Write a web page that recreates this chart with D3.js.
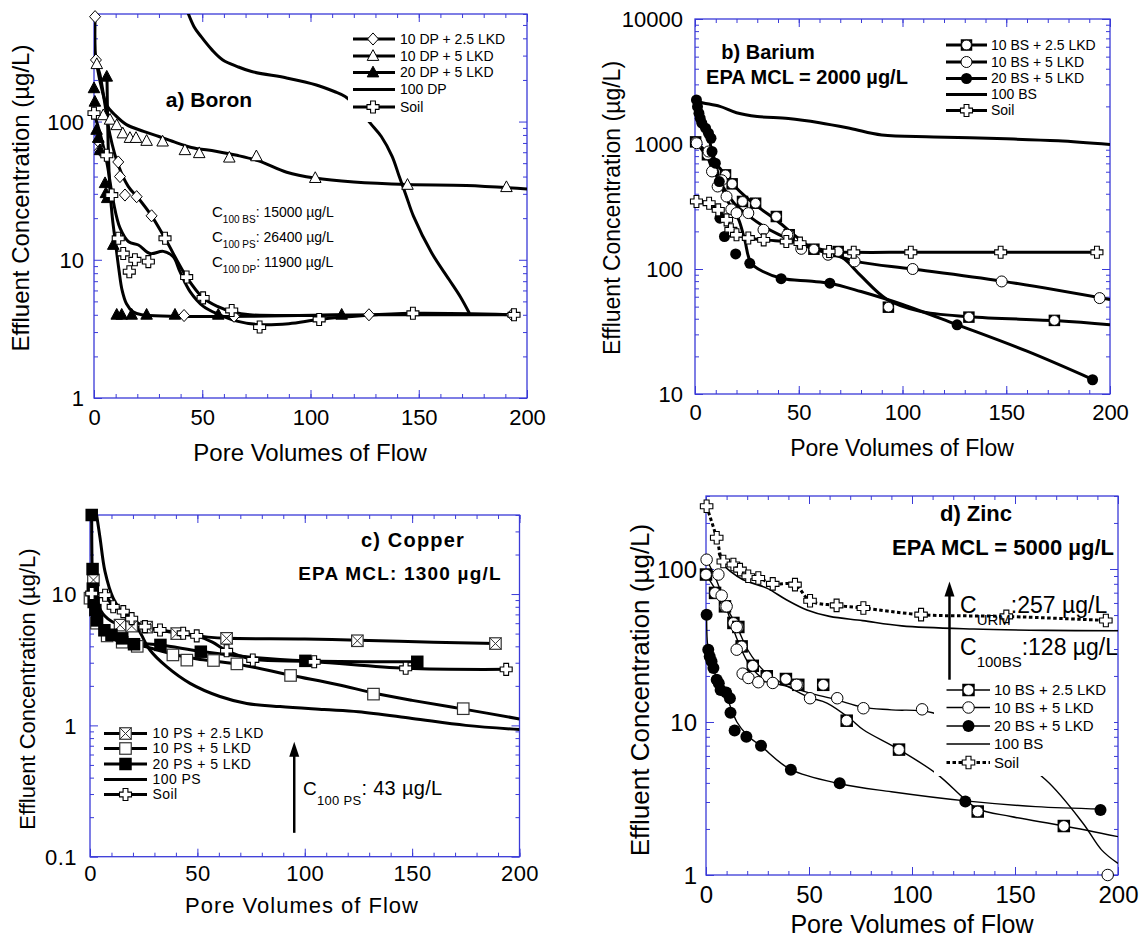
<!DOCTYPE html>
<html><head><meta charset="utf-8">
<script src="https://cdn.jsdelivr.net/npm/d3@7"></script>
<style>
body{margin:0;background:#fff;}
svg{display:block;font-family:"Liberation Sans",Arial,Helvetica,sans-serif;}
</style></head><body>
<svg id="chart" width="1144" height="942"></svg>
<script>
// ================= DATA =================
const xTickValues = [0, 50, 100, 150, 200];
const xMinorValues = d3.range(0, 201, 10);
const xTitle = "Pore Volumes of Flow";
const yTitle = "Effluent Concentration (\u00b5g/L)";

// ---- a) Boron ----
const boronYTicks = [1, 10, 100];
const boronNames = ["10 DP + 2.5 LKD", "10 DP + 5 LKD", "20 DP + 5 LKD", "100 DP", "Soil"];
const boronDP25Points = [[0.5,574],[0.9,279],[2,72],[2.8,62],[11.2,51],[12,40],[14.3,29.4],[19.7,28.6],[26.6,20.8],[41.6,3.95],[64.7,3.9],[127,4.0],[193,4.0]];
const boronDP25Curve = [[0.5,574],[0.9,279],[2.8,217],[5.1,132],[7.4,80],[11.2,48.5],[15.8,34],[20.5,27.9],[26.6,20.8],[32.8,14.3],[42.8,7.5],[50.4,5.3],[57,4.6],[64,4.2],[72,4.0],[130,4.0],[193,4.0]];
const boronDP5Points = [[1.3,260],[4.3,111],[7.4,103],[10.5,94],[13.3,82],[16.6,76],[19.4,76],[24.3,72.4],[31.7,71.6],[42,62],[48.6,59],[62.5,54.8],[75,56],[102.2,39],[144.8,34.8],[190.5,33.5]];
const boronDP5Curve = [[1.3,260],[3,189],[6,130],[9.6,112],[15,95],[22.9,85],[30,78],[36.2,72],[45,65],[56.2,61],[66,57],[76,52],[89,43],[102,39],[120,36.5],[145,35],[172,34.5],[200,32.5]];
const boronDP20Points = [[0,174],[0.4,139],[1.2,87],[2,76],[2.8,62],[5.1,35.8],[5.5,30.3],[6.1,27.9],[5.9,211],[8.9,12.8],[10.5,4],[12.8,4],[17.4,4],[24.3,4],[37.4,4],[57.4,4],[114.4,4]];
const boronDP20Curve = [[6,211],[6.3,100],[6.8,50],[7.4,32],[8.5,20],[10,13],[11.5,8.5],[13,6],[15,4.8],[18,4.2],[22,4.0],[114.4,4.0]];
const boronDP100Curve = [[42,700],[46.2,486],[49.5,411],[54.5,330],[59.5,279],[66.2,250],[72.8,230],[89.4,206],[102.7,184],[111,165],[116,152],[122,125],[127.7,97],[132.7,78],[137.7,56],[141,40],[144.3,28.7],[147.6,20.6],[156,11.2],[164,7.2],[169.2,5.4],[173.4,4.1]];
const boronSoilPoints = [[0,115],[5.9,57],[8.2,29.4],[11.2,14.3],[13.5,11.1],[16.3,8.2],[18.9,10],[25.1,9.7],[32.8,14.3],[42.8,7.5],[50.4,5.3],[63.6,4.3],[76.5,3.26],[104,3.7],[147.3,4.1],[194,4.0]];
const boronSoilCurve = [[0,115],[3,80],[6,50],[9,26],[12,17],[16,13.5],[20.5,12.8],[25.9,11.1],[32,11.5],[36.6,10.5],[39.7,8.2],[44.3,5.9],[50.5,4.6],[58,4.0],[66,3.6],[76,3.4],[90,3.45],[104,3.7],[125,3.95],[147,4.1],[194,4.0]];

// ---- b) Barium ----
const bariumYTicks = [10, 100, 1000, 10000];
const bariumNames = ["10 BS + 2.5 LKD", "10 BS + 5 LKD", "20 BS + 5 LKD", "100 BS", "Soil"];
const bariumBS25Points = [[0.3,1040],[6,820],[14.7,566],[17.9,480],[22.9,347],[29.2,336],[39.2,263],[45.4,188],[57.3,144],[69,138],[93.2,49.5],[132,41.2],[173.2,38.8]];
const bariumBS25Curve = [[0.3,1040],[6,800],[12,640],[18,480],[25,370],[32,300],[40,240],[50,175],[57,145],[66,135],[72,120],[80,88],[92.6,57],[108,46],[132,41.5],[175,38.5],[200,35.8]];
const bariumBS5Points = [[0.8,1014],[6.5,871],[8.2,603],[10.9,457],[12.9,513],[15.2,380],[17.5,300],[20,280],[25.7,280],[33,206],[44.5,188],[51.2,145],[64.1,130],[76.9,115],[104.9,100],[147.8,79.5],[195,58.5]];
const bariumBS5Curve = [[0.8,1014],[5,870],[8,650],[12,500],[16,390],[20,320],[26,265],[33,220],[40,190],[50,160],[60,140],[70,125],[80,113],[105,100],[148,80],[200,57]];
const bariumBS20Points = [[0.7,2254],[1.2,1990],[1.9,1762],[2.5,1607],[3.3,1466],[5.1,1337],[6.5,1219],[7.7,1112],[8.2,871],[9.8,702],[11.7,501],[12,255],[14.2,182],[19.6,132],[26.4,111],[41.5,83.6],[65,77],[126.3,35.8],[191.6,13.0]];
const bariumBS20Curve = [[0.7,2254],[2,1800],[4,1450],[6,1250],[8,900],[10,700],[12,500],[15,370],[18,300],[21,250],[24,170],[27,112],[33,95],[42,84],[55,80],[65,77],[80,66],[100,52],[126,36],[160,22],[192,13]];
const bariumBS100Curve = [[0.7,2200],[4,2130],[12,2000],[20,1780],[30,1660],[45,1600],[60,1480],[75,1330],[90,1180],[115,1140],[150,1100],[175,1060],[200,990]];
const bariumSoilPoints = [[0.7,347],[6.8,336],[11.2,297],[15.2,247],[17.3,206],[20,188],[25.7,177],[33.1,171],[44,166],[50.6,161],[64.6,138],[76.5,136],[104,136],[147.3,136],[193.7,136]];
const bariumSoilCurve = [[0.7,347],[6.8,336],[11.2,297],[15.2,247],[17.3,206],[20,188],[25.7,177],[33.1,171],[44,166],[50.6,161],[64.6,138],[76.5,136],[104,136],[147.3,136],[193.7,136]];

// ---- c) Copper ----
const copperYTicks = [0.1, 1, 10];
const copperNames = ["10 PS + 2.5 LKD", "10 PS + 5 LKD", "20 PS + 5 LKD", "100 PS", "Soil"];
const copperPS25Points = [[1.6,12.8],[14,5.8],[19.4,5.7],[26.4,5.6],[40.4,5.0],[63.6,4.6],[124.5,4.41],[188.8,4.2]];
const copperPS25Curve = [[1.6,12.8],[5,7.5],[10,6.2],[15,5.8],[20,5.65],[27,5.5],[40,5.05],[55,4.7],[64,4.6],[100,4.55],[125,4.45],[160,4.3],[189,4.2]];
const copperPS5Points = [[0,9.3],[3,6],[8,4.8],[15,4.3],[22,4.0],[38.6,3.44],[45.1,3.14],[57.5,3.12],[68.4,2.94],[93.4,2.4],[132,1.73],[173.8,1.34]];
const copperPS5Curve = [[0,9.3],[3,6],[8,4.8],[15,4.3],[25,4.0],[38,3.5],[50,3.2],[60,3.05],[70,2.9],[94,2.4],[115,2.05],[133,1.75],[150,1.55],[174,1.33],[200,1.12]];
const copperPS20Points = [[0.8,40],[1.2,15.5],[1.3,11],[1.7,8.7],[2.5,7.55],[3.3,6.3],[6.7,5.3],[10,4.9],[15,4.6],[20.5,4.15],[32.8,4.1],[51.6,3.64],[100.3,3.1],[152.4,3.05]];
const copperPS20Curve = [[0.8,40],[1,16],[1.5,11],[3,7.2],[6,5.4],[10,4.85],[15,4.5],[22,4.25],[33,4.1],[52,3.65],[75,3.3],[100,3.1],[152,3.05]];
const copperPS100Curve = [[3.1,40],[4.7,26.6],[7,14.8],[10.8,9.3],[17.1,6.5],[22.5,5.33],[27.9,3.75],[35.7,2.8],[46.6,2.09],[60.5,1.66],[73,1.47],[88.5,1.39],[109,1.32],[125,1.27],[150,1.13],[175,1.0],[200,0.93]];
const copperSoilPoints = [[0.8,10.1],[7,9.8],[10.8,8.0],[15.5,7.35],[19.4,6.5],[25.6,5.65],[32.6,5.33],[43.4,5.03],[49.7,4.8],[63.6,3.7],[75.8,3.15],[104.4,3.05],[147,2.72],[193.8,2.67]];
const copperSoilCurve = [[0.8,10.1],[7,9.8],[10.8,8.0],[15.5,7.35],[19.4,6.5],[25.6,5.65],[32.6,5.33],[43.4,5.03],[49.7,4.8],[57,4.3],[63.6,3.7],[75.8,3.2],[104.4,3.05],[147,2.72],[193.8,2.67]];

// ---- d) Zinc ----
const zincYTicks = [1, 10, 100];
const zincNames = ["10 BS + 2.5 LKD", "10 BS + 5 LKD", "20 BS + 5 LKD", "100 BS", "Soil"];
const zincBS25Points = [[0,92],[4.4,69.8],[9.2,57],[13.3,44.4],[15.7,41.8],[17.3,31.2],[22.7,23.3],[29.5,19.9],[38.8,19.1],[44.8,17.5],[56.9,17.5],[68.3,10.2],[93.7,6.6],[131.9,2.6],[173.7,2.09]];
const zincBS25Curve = [[0,92],[5,72],[10,56],[15,42],[20,30],[25,24],[30,20.5],[40,17],[50,14.5],[58.7,13.3],[70,10.5],[76.4,8.9],[93.7,6.6],[112,4.58],[126,3.1],[132,2.7],[148,2.41],[174,2.09],[200,1.78]];
const zincBS5Points = [[0.3,115],[6,92],[7.6,67],[10,57],[14.9,41.8],[14.9,29.7],[17.8,20.7],[20.6,19.4],[25.4,18.2],[32.4,18],[44,17.5],[50.5,14.3],[63.7,14.3],[76.4,12.3],[104.9,12.1],[195,1.0]];
const zincBS5Curve = [[0.3,115],[5,85],[10,55],[15,35],[20,25],[25,20.5],[30,18.5],[40,17],[50,15.5],[63,14],[76,12.5],[90,12],[110,11.5],[140,7.2],[165,4.18],[183,2.18],[192,1.46],[200,1.19]];
const zincBS20Points = [[0.3,50.3],[1.1,29.7],[1.8,26.8],[2.7,24.9],[3.6,22.5],[5.2,18.9],[6.2,17.9],[7.1,16.2],[9.8,15.6],[11.6,14.3],[11.9,11.5],[13.9,8.8],[19.6,8.0],[26.7,7.0],[41.2,4.87],[64.9,3.98],[125.9,3.02],[191.5,2.66]];
const zincBS20Curve = [[0.3,50],[1,30],[3,24],[6,18],[10,14.5],[15,10],[20,8.2],[27,6.9],[41,4.9],[65,3.95],[90,3.5],[126,3.05],[160,2.8],[192,2.7]];
const zincBS100Curve = [[6,127],[9,105],[12,96],[18,85],[29.5,75],[39,63],[49,54],[60,49],[76,46],[95,42.5],[130,40.5],[165,39.7],[200,39.5]];
const zincSoilPoints = [[0.3,257],[5.2,160],[8.4,112],[13.3,107],[16.5,99],[20.5,89.6],[25.4,87.4],[32.4,80],[43.2,79],[50.5,62],[63.4,57.8],[76.4,55.6],[104.4,50.3],[145.8,49],[194.1,46.1]];
const zincSoilCurve = [[0.3,257],[5.2,160],[8.4,112],[13.3,107],[16.5,99],[20.5,89.6],[25.4,87.4],[32.4,80],[43.2,79],[50.5,62],[63.4,57.8],[76.4,55.6],[104.4,50.3],[145.8,49],[194.1,46.1]];

// ================= DRAWING =================
const BLUE = "#3a3ad8";
const svg = d3.select("#chart");

function drawMarker(g, type, cx, cy, s) {
  const h = s / 2;
  if (type === "diamond") {
    g.append("path").attr("d", `M${cx},${cy-h*1.1}L${cx+h},${cy}L${cx},${cy+h*1.1}L${cx-h},${cy}Z`)
      .attr("fill", "#fff").attr("stroke", "#000").attr("stroke-width", 1);
  } else if (type === "triOpen" || type === "triFilled") {
    g.append("path").attr("d", `M${cx},${cy-h*1.15}L${cx+h*1.05},${cy+h*0.8}L${cx-h*1.05},${cy+h*0.8}Z`)
      .attr("fill", type === "triFilled" ? "#000" : "#fff").attr("stroke", "#000").attr("stroke-width", 1);
  } else if (type === "cross") {
    const w = s * 0.2, L = h;
    g.append("path").attr("d",
      `M${cx-w},${cy-L}H${cx+w}V${cy-w}H${cx+L}V${cy+w}H${cx+w}V${cy+L}H${cx-w}V${cy+w}H${cx-L}V${cy-w}H${cx-w}Z`)
      .attr("fill", "#fff").attr("stroke", "#000").attr("stroke-width", 1.1);
  } else if (type === "circleOpen") {
    g.append("circle").attr("cx", cx).attr("cy", cy).attr("r", h)
      .attr("fill", "#fff").attr("stroke", "#000").attr("stroke-width", 1);
  } else if (type === "circleFilled") {
    g.append("circle").attr("cx", cx).attr("cy", cy).attr("r", h).attr("fill", "#000");
  } else if (type === "squareCircle") {
    g.append("rect").attr("x", cx-h).attr("y", cy-h).attr("width", s).attr("height", s).attr("fill", "#000");
    g.append("circle").attr("cx", cx).attr("cy", cy).attr("r", h-0.9)
      .attr("fill", "#fff").attr("stroke", "#000").attr("stroke-width", 0.8);
  } else if (type === "squareX") {
    g.append("rect").attr("x", cx-h).attr("y", cy-h).attr("width", s).attr("height", s)
      .attr("fill", "#fff").attr("stroke", "#333").attr("stroke-width", 1.2);
    g.append("path").attr("d", `M${cx-h},${cy-h}L${cx+h},${cy+h}M${cx+h},${cy-h}L${cx-h},${cy+h}`)
      .attr("stroke", "#333").attr("stroke-width", 1);
  } else if (type === "squareOpen") {
    g.append("rect").attr("x", cx-h).attr("y", cy-h).attr("width", s).attr("height", s)
      .attr("fill", "#fff").attr("stroke", "#333").attr("stroke-width", 1.2);
  } else if (type === "squareFilled") {
    g.append("rect").attr("x", cx-h).attr("y", cy-h).attr("width", s).attr("height", s).attr("fill", "#000");
  }
}

function minorLogTicks(domain) {
  const out = [];
  const lo = Math.floor(Math.log10(domain[0])), hi = Math.ceil(Math.log10(domain[1]));
  for (let e = lo; e <= hi; e++) for (let k = 2; k <= 9; k++) {
    const v = k * Math.pow(10, e);
    if (v > domain[0] * 1.0001 && v < domain[1] * 1.0001) out.push(v);
  }
  return out;
}

function drawPanel(p) {
  const g = svg.append("g");
  const x = d3.scaleLinear().domain([0, 200]).range([p.x0, p.x1]);
  const y = d3.scaleLog().domain(p.yDomain).range([p.yb, p.yt]);
  const clipId = "clip-" + p.id;
  svg.append("clipPath").attr("id", clipId).append("rect")
    .attr("x", p.x0).attr("y", p.yt).attr("width", p.x1 - p.x0).attr("height", p.yb - p.yt);

  const yMinor = minorLogTicks(p.yDomain);
  const styleAxis = sel => { sel.select(".domain").remove(); sel.selectAll(".tick line").attr("stroke", BLUE).attr("stroke-width", 1); };
  const bottom = g.append("g").attr("transform", `translate(0,${p.yb})`)
    .call(d3.axisBottom(x).tickValues(xTickValues).tickSize(-8).tickFormat(d3.format("d"))).call(styleAxis);
  bottom.selectAll("text").attr("y", p.xLabelDy).attr("dy", "0.35em").attr("fill", "#000")
    .attr("font-size", p.tickFont).attr("font-family", "Liberation Sans, Arial, sans-serif")
    .attr("letter-spacing", p.tickSpacing || 0);
  g.append("g").attr("transform", `translate(0,${p.yb})`)
    .call(d3.axisBottom(x).tickValues(xMinorValues).tickSize(-4).tickFormat("")).call(styleAxis);
  g.append("g").attr("transform", `translate(0,${p.yt})`)
    .call(d3.axisTop(x).tickValues(xTickValues).tickSize(-8).tickFormat("")).call(styleAxis);
  g.append("g").attr("transform", `translate(0,${p.yt})`)
    .call(d3.axisTop(x).tickValues(xMinorValues).tickSize(-4).tickFormat("")).call(styleAxis);
  const left = g.append("g").attr("transform", `translate(${p.x0},0)`)
    .call(d3.axisLeft(y).tickValues(p.yTicks).tickSize(-8).tickFormat(d => String(d))).call(styleAxis);
  left.selectAll("text").attr("x", -p.yLabelPad).attr("dy", "0.35em").attr("fill", "#000")
    .attr("font-size", p.tickFont).attr("font-family", "Liberation Sans, Arial, sans-serif")
    .attr("letter-spacing", p.tickSpacing || 0);
  g.append("g").attr("transform", `translate(${p.x0},0)`)
    .call(d3.axisLeft(y).tickValues(yMinor).tickSize(-4).tickFormat("")).call(styleAxis);
  g.append("g").attr("transform", `translate(${p.x1},0)`)
    .call(d3.axisRight(y).tickValues(p.yTicks).tickSize(-8).tickFormat("")).call(styleAxis);
  g.append("g").attr("transform", `translate(${p.x1},0)`)
    .call(d3.axisRight(y).tickValues(yMinor).tickSize(-4).tickFormat("")).call(styleAxis);
  g.append("rect").attr("x", p.x0).attr("y", p.yt).attr("width", p.x1 - p.x0).attr("height", p.yb - p.yt)
    .attr("fill", "none").attr("stroke", BLUE).attr("stroke-width", 1.3);

  const line = d3.line().x(d => x(d[0])).y(d => y(d[1])).curve(d3.curveCatmullRom.alpha(0.5));
  const lg = g.append("g").attr("clip-path", `url(#${clipId})`);
  p.series.forEach(s => {
    if (!s.curve) return;
    lg.append("path").datum(s.curve).attr("d", line).attr("fill", "none")
      .attr("stroke", "#000").attr("stroke-width", s.lw)
      .attr("stroke-dasharray", s.dash || null).attr("stroke-linejoin", "round");
  });

  const L = p.legend;
  if (L.bg) g.append("rect").attr("x", L.bg[0]).attr("y", L.bg[1]).attr("width", L.bg[2]).attr("height", L.bg[3]).attr("fill", "#fff");

  const mg = g.append("g");
  p.series.forEach(s => {
    if (!s.points) return;
    s.points.forEach(d => drawMarker(mg, s.marker, x(d[0]), y(d[1]), s.size));
  });

  p.series.forEach((s, i) => {
    const yy = L.rows[i];
    g.append("line").attr("x1", L.lx0).attr("x2", L.lx1).attr("y1", yy).attr("y2", yy)
      .attr("stroke", "#000").attr("stroke-width", s.lw).attr("stroke-dasharray", s.dash || null);
    if (s.points) drawMarker(g, s.marker, L.mx, yy, s.size);
    g.append("text").attr("x", L.tx).attr("y", yy).attr("dy", "0.35em").attr("font-size", L.font)
      .attr("letter-spacing", L.spacing || 0).attr("fill", "#000").text(s.name);
  });

  g.append("text").attr("x", p.xTitle.x).attr("y", p.xTitle.y).attr("dy", "0.35em").attr("text-anchor", "middle")
    .attr("font-size", p.xTitle.size).attr("letter-spacing", p.xTitle.spacing || 0).text(xTitle);
  g.append("text").attr("transform", `translate(${p.yTitle.x},${p.yTitle.y}) rotate(-90)`).attr("dy", "0.35em")
    .attr("text-anchor", "middle").attr("font-size", p.yTitle.size).text(yTitle);

  p.labels.forEach(t => {
    g.append("text").attr("x", t.x).attr("y", t.y).attr("text-anchor", t.anchor || "middle")
      .attr("font-size", t.size).attr("font-weight", t.bold ? "bold" : "normal")
      .attr("letter-spacing", t.spacing || 0).text(t.text);
  });
  return {g, x, y};
}

const panelA = drawPanel({
  id: "a", x0: 94, x1: 527, yb: 398, yt: 14, yDomain: [1, 600], yTicks: boronYTicks,
  tickFont: 22, xLabelDy: 19, yLabelPad: 10,
  series: [
    {name: boronNames[0], marker: "diamond", size: 11, lw: 3, points: boronDP25Points, curve: boronDP25Curve},
    {name: boronNames[1], marker: "triOpen", size: 11, lw: 3, points: boronDP5Points, curve: boronDP5Curve},
    {name: boronNames[2], marker: "triFilled", size: 11, lw: 3, points: boronDP20Points, curve: boronDP20Curve},
    {name: boronNames[3], lw: 3, curve: boronDP100Curve},
    {name: boronNames[4], marker: "cross", size: 12, lw: 3, points: boronSoilPoints, curve: boronSoilCurve}
  ],
  legend: {rows: [39, 56, 72.5, 89.5, 107], lx0: 353, lx1: 395, mx: 373, tx: 400, font: 14, bg: [348, 28, 166, 94]},
  xTitle: {x: 310, y: 453, size: 24}, yTitle: {x: 20.5, y: 198, size: 24},
  labels: [{text: "a) Boron", x: 209, y: 107, size: 21, bold: true}]
});
[["100 BS", ": 15000 \u00b5g/L", 216.5], ["100 PS", ": 26400 \u00b5g/L", 241.5], ["100 DP", ": 11900 \u00b5g/L", 266.5]].forEach(r => {
  const t = panelA.g.append("text").attr("x", 212).attr("y", r[2]).attr("font-size", 15);
  t.append("tspan").text("C");
  t.append("tspan").attr("font-size", 10).attr("dy", 6).text(r[0]);
  t.append("tspan").attr("font-size", 14).attr("dy", -6).text(r[1]);
});

drawPanel({
  id: "b", x0: 695, x1: 1110, yb: 394, yt: 19, yDomain: [10, 10000], yTicks: bariumYTicks,
  tickFont: 22, xLabelDy: 18, yLabelPad: 12,
  series: [
    {name: bariumNames[0], marker: "squareCircle", size: 11.5, lw: 3, points: bariumBS25Points, curve: bariumBS25Curve},
    {name: bariumNames[1], marker: "circleOpen", size: 11, lw: 3, points: bariumBS5Points, curve: bariumBS5Curve},
    {name: bariumNames[2], marker: "circleFilled", size: 11, lw: 3, points: bariumBS20Points, curve: bariumBS20Curve},
    {name: bariumNames[3], lw: 3, curve: bariumBS100Curve},
    {name: bariumNames[4], marker: "cross", size: 12, lw: 3, points: bariumSoilPoints, curve: bariumSoilCurve}
  ],
  legend: {rows: [45, 62, 78.5, 94.5, 110.5], lx0: 946, lx1: 987, mx: 966.5, tx: 991, font: 14},
  xTitle: {x: 902, y: 448, size: 23}, yTitle: {x: 612, y: 208, size: 23},
  labels: [
    {text: "b) Barium", x: 768, y: 58.5, size: 20, bold: true},
    {text: "EPA MCL = 2000 \u00b5g/L", x: 807, y: 84, size: 20, bold: true}
  ]
});

const panelC = drawPanel({
  id: "c", x0: 90, x1: 519.5, yb: 856.7, yt: 515, yDomain: [0.1, 40], yTicks: copperYTicks,
  tickFont: 22, tickSpacing: 0.5, xLabelDy: 16.5, yLabelPad: 13,
  series: [
    {name: copperNames[0], marker: "squareX", size: 11.5, lw: 3, points: copperPS25Points, curve: copperPS25Curve},
    {name: copperNames[1], marker: "squareOpen", size: 11.5, lw: 3, points: copperPS5Points, curve: copperPS5Curve},
    {name: copperNames[2], marker: "squareFilled", size: 12.5, lw: 3, points: copperPS20Points, curve: copperPS20Curve},
    {name: copperNames[3], lw: 3, curve: copperPS100Curve},
    {name: copperNames[4], marker: "cross", size: 12, lw: 3, points: copperSoilPoints, curve: copperSoilCurve}
  ],
  legend: {rows: [733.5, 748.5, 764, 779.5, 794.5], lx0: 104, lx1: 147, mx: 125.5, tx: 152.5, font: 14, spacing: 0.45},
  xTitle: {x: 302, y: 905, size: 22, spacing: 1}, yTitle: {x: 27, y: 689, size: 22},
  labels: [
    {text: "c) Copper", x: 413, y: 547, size: 20, bold: true, spacing: 1.2},
    {text: "EPA MCL: 1300 \u00b5g/L", x: 400, y: 580, size: 19, bold: true, spacing: 1.2}
  ]
});

const panelD = drawPanel({
  id: "d", x0: 706, x1: 1118, yb: 875, yt: 496, yDomain: [1, 300], yTicks: zincYTicks,
  tickFont: 24, xLabelDy: 20, yLabelPad: 9,
  series: [
    {name: zincNames[0], marker: "squareCircle", size: 12.5, lw: 1.4, points: zincBS25Points, curve: zincBS25Curve},
    {name: zincNames[1], marker: "circleOpen", size: 11.5, lw: 1.4, points: zincBS5Points, curve: zincBS5Curve},
    {name: zincNames[2], marker: "circleFilled", size: 12, lw: 1.4, points: zincBS20Points, curve: zincBS20Curve},
    {name: zincNames[3], lw: 1.6, curve: zincBS100Curve},
    {name: zincNames[4], marker: "cross", size: 12.5, lw: 3, dash: "3.5,2.5", points: zincSoilPoints, curve: zincSoilCurve}
  ],
  legend: {rows: [690, 707.5, 726, 744, 762.5], lx0: 946.5, lx1: 990, mx: 968.5, tx: 994, font: 15, bg: [934, 676, 180, 100]},
  xTitle: {x: 912, y: 924, size: 25}, yTitle: {x: 640, y: 690, size: 26},
  labels: [
    {text: "d) Zinc", x: 976, y: 521, size: 22, bold: true},
    {text: "EPA MCL = 5000 \u00b5g/L", x: 1003, y: 554.5, size: 22, bold: true}
  ]
});

function arrow(g, ax, yBottom, yTip, w) {
  g.append("line").attr("x1", ax).attr("x2", ax).attr("y1", yBottom).attr("y2", yTip + 12)
    .attr("stroke", "#000").attr("stroke-width", w);
  g.append("path").attr("d", `M${ax},${yTip}L${ax+5},${yTip+15}L${ax-5},${yTip+15}Z`).attr("fill", "#000");
}
arrow(panelC.g, panelC.x(95.1), panelC.y(0.152), panelC.y(0.75), 2.5);
{
  const t = panelC.g.append("text").attr("x", 303).attr("y", 795).attr("font-size", 19).attr("letter-spacing", 0.3);
  t.append("tspan").text("C");
  t.append("tspan").attr("font-size", 13).attr("dy", 10).text("100 PS");
  t.append("tspan").attr("font-size", 20).attr("dy", -10).text(": 43 \u00b5g/L");
}
arrow(panelD.g, panelD.x(118.2), panelD.y(18.9), panelD.y(83), 2.5);
[["URM", ":257 \u00b5g/L", 613], ["100BS", ":128 \u00b5g/L", 655]].forEach(r => {
  const t = panelD.g.append("text").attr("x", 960).attr("y", r[2]).attr("font-size", 23);
  t.append("tspan").text("C");
  t.append("tspan").attr("font-size", 15).attr("dy", 12).text(r[0]);
  t.append("tspan").attr("font-size", 23).attr("dy", -12).text(r[1]);
});
</script>
</body></html>
